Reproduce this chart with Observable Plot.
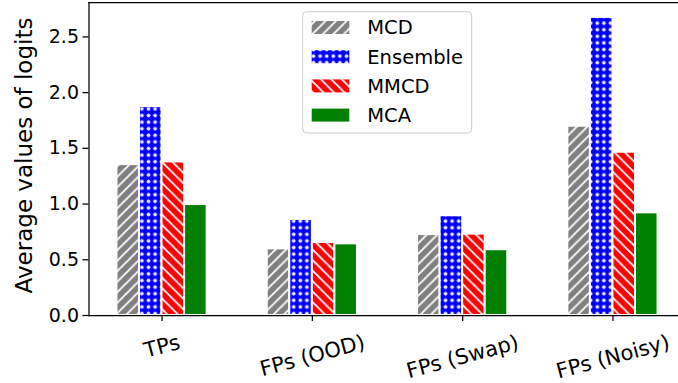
<!DOCTYPE html>
<html><head><meta charset="utf-8">
<script src="https://cdn.jsdelivr.net/npm/d3@7"></script>
<script src="https://cdn.jsdelivr.net/npm/@observablehq/plot@0.6"></script>
<style>
html,body{margin:0;padding:0;background:#fff;overflow:hidden}
#chart svg{display:block;overflow:hidden}
</style></head><body><div id="chart"></div>
<script>
// ---- data ----
const categories = ["TPs", "FPs (OOD)", "FPs (Swap)", "FPs (Noisy)"];
const seriesNames = ["MCD", "Ensemble", "MMCD", "MCA"];
const mcdValues = [1.354, 0.598, 0.726, 1.698];
const ensembleValues = [1.874, 0.862, 0.895, 2.675];
const mmcdValues = [1.378, 0.655, 0.730, 1.465];
const mcaValues = [0.996, 0.643, 0.590, 0.921];
const yTicks = [0, 0.5, 1.0, 1.5, 2.0, 2.5];
const yLabel = "Average values of logits";

// ---- styles ----
const font = '"DejaVu Sans", sans-serif';
const patternFill = {MCD: "url(#hatch-mcd)", Ensemble: "url(#dots-ens)", MMCD: "url(#hatch-mmcd)", MCA: "#008000"};
const allValues = [mcdValues, ensembleValues, mmcdValues, mcaValues];
const rows = [];
seriesNames.forEach((s, si) => categories.forEach((c, ci) => rows.push({series: s, si, ci, value: allValues[si][ci]})));
const barW = 0.15;
const yMax = d3.max(allValues.flat()) * 1.05;

const ctx = document.createElement("canvas").getContext("2d");
function measure(t, size) { ctx.font = `${size}px "DejaVu Sans"`; return ctx.measureText(t).width; }
const xFont = 21, rot = 15;

const plot = Plot.plot({
  width: 678, height: 383,
  marginTop: 2, marginBottom: 68, marginLeft: 88.5, marginRight: 0,
  style: {fontFamily: font, background: "white", color: "black", overflow: "hidden"},
  x: {type: "linear", domain: [-0.486, categories.length - 1 + 0.486], range: [88.5, 685.5], axis: null},
  y: {domain: [0, yMax], range: [315, 2], axis: null},
  color: {type: "identity"},
  marks: [
    Plot.rectY(rows, {
      x1: d => d.ci + (d.si - 1.5) * barW - barW / 2,
      x2: d => d.ci + (d.si - 1.5) * barW + barW / 2,
      y1: 0, y2: "value",
      fill: d => patternFill[d.series],
      stroke: "white", strokeWidth: 2
    }),
    Plot.frame({anchor: "top", stroke: "black", strokeWidth: 1.25}),
    Plot.frame({anchor: "left", stroke: "black", strokeWidth: 1.25}),
    Plot.frame({anchor: "bottom", stroke: "black", strokeWidth: 1.25}),
    Plot.axisY({ticks: yTicks, tickFormat: d3.format(".1f"), tickSize: 6, tickPadding: 4, fontSize: 19, label: null, strokeWidth: 1.25}),
    Plot.axisX({ticks: categories.map((c, i) => i), tickFormat: () => "", tickSize: 6, label: null, strokeWidth: 1.25}),
    ...categories.map((c, i) => {
      const L = measure(c, xFont);
      const dy = 20 + (L * Math.sin(rot * Math.PI / 180) + 13) / 2;
      return Plot.text([c], {x: () => i, text: d => d, frameAnchor: "bottom", dy, rotate: -rot, fontSize: xFont, textAnchor: "middle", lineAnchor: "middle"});
    }),
    Plot.text([yLabel], {text: d => d, frameAnchor: "left", dx: -64.5, dy: -3.5, rotate: -90, fontSize: 23, textAnchor: "middle", lineAnchor: "middle"})
  ]
});

const svg = d3.select(plot);
const defs = svg.insert("defs", ":first-child");
function hatch(id, color, dir) {
  const p = 10.5;
  const pat = defs.append("pattern").attr("id", id).attr("patternUnits", "userSpaceOnUse").attr("width", p).attr("height", p);
  pat.append("rect").attr("width", p).attr("height", p).attr("fill", color);
  const d = dir > 0
    ? `M-1,1L1,-1M0,${p}L${p},0M${p - 1},${p + 1}L${p + 1},${p - 1}`
    : `M-1,${p - 1}L1,${p + 1}M0,0L${p},${p}M${p - 1},-1L${p + 1},1`;
  pat.append("path").attr("d", d).attr("stroke", "white").attr("stroke-width", 1.8).attr("fill", "none");
}
hatch("hatch-mcd", "#808080", 1);
hatch("hatch-mmcd", "#ff0000", -1);
{
  const s = 6.6;
  const pat = defs.append("pattern").attr("id", "dots-ens").attr("patternUnits", "userSpaceOnUse").attr("width", s).attr("height", s);
  pat.append("rect").attr("width", s).attr("height", s).attr("fill", "#0000ff");
  pat.append("circle").attr("cx", s / 2).attr("cy", s / 2).attr("r", 1.5).attr("fill", "#e8e8ff").attr("stroke", "white").attr("stroke-width", 0.8);
}

// legend
const lg = svg.append("g").attr("font-family", font).attr("text-anchor", "start");
lg.append("rect").attr("x", 302.7).attr("y", 11.7).attr("width", 169).attr("height", 121.3).attr("rx", 4)
  .attr("fill", "white").attr("fill-opacity", 0.8).attr("stroke", "#cccccc").attr("stroke-width", 1);
seriesNames.forEach((s, i) => {
  const cy = 27.5 + i * 29.2;
  lg.append("rect").attr("x", 311.7).attr("y", cy - 6.5).attr("width", 37.6).attr("height", 13).attr("fill", patternFill[s]);
  lg.append("text").attr("x", 367.3).attr("y", cy).attr("dy", "0.35em").attr("text-anchor", "start")
    .attr("font-size", 19.5).attr("fill", "black").text(s);
});

document.getElementById("chart").appendChild(plot);
</script></body></html>
